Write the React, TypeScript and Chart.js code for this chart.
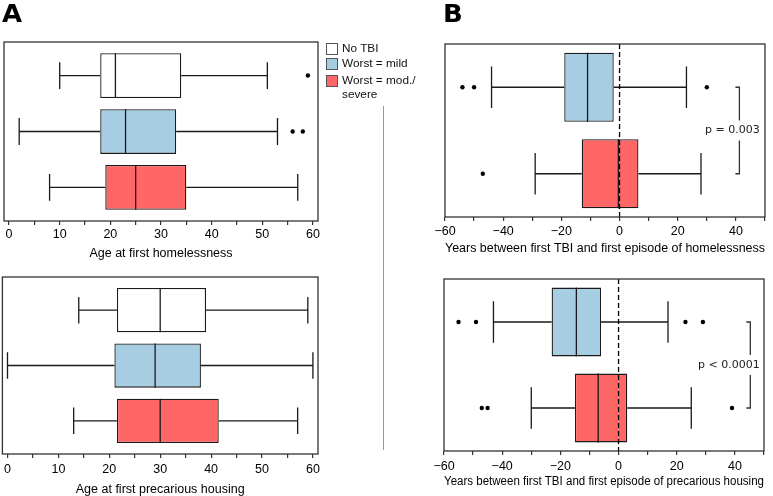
import React, { useEffect, useRef } from "react";
import { Chart, registerables } from "chart.js";

Chart.register(...registerables);

// ---------- data ----------
const groupNames = ["No TBI", "Worst = mild", "Worst = mod./severe"];
const groupColors = ["#ffffff", "#a6cde2", "#ff6666"];

// A (top): age at first homelessness — No TBI, mild, mod./severe
const homeAgeMin = [10, 2, 8];
const homeAgeQ1 = [18, 18, 19];
const homeAgeMed = [21, 23, 25];
const homeAgeQ3 = [34, 33, 35];
const homeAgeMax = [51, 53, 57];
const homeAgeOut = [[59], [56, 58], []];

// A (bottom): age at first precarious housing
const precAgeMin = [14, 0, 13];
const precAgeQ1 = [21.5, 21, 21.5];
const precAgeMed = [30, 29, 30];
const precAgeQ3 = [39, 38, 41.5];
const precAgeMax = [59, 60, 57];
const precAgeOut = [[], [], []];

// B (top): years between first TBI and first homelessness — mild, mod./severe
const homeGapMin = [-44, -29];
const homeGapQ1 = [-19, -13];
const homeGapMed = [-11, -0.4];
const homeGapQ3 = [-2, 6.5];
const homeGapMax = [23, 28];
const homeGapOut = [[-54, -50, 30], [-47]];

// B (bottom): years between first TBI and first precarious housing
const precGapMin = [-43, -30];
const precGapQ1 = [-23, -15];
const precGapMed = [-14.5, -7];
const precGapQ3 = [-6, 3];
const precGapMax = [17, 25];
const precGapOut = [[-55, -49, 23, 29], [-47, -45, 39]];

const ageTicks = [0, 5, 10, 15, 20, 25, 30, 35, 40, 45, 50, 55, 60];
const gapTicks = [-60, -50, -40, -30, -20, -10, 0, 10, 20, 30, 40, 50];

const pHome = "p = 0.003";
const pPrec = "p < 0.0001";

// ---------- rendering ----------
const W = 773;
const H = 496;
const SANS = "'Liberation Sans', Arial, Helvetica, sans-serif";

type PanelProps = {
  frame: [number, number, number, number];
  xMin: number;
  xMax: number;
  rowPad: number;
  tickValues: number[];
  labelStep: number;
  title: string;
  labelGap: number;
  titleGap: number;
  colors: string[];
  mins: number[];
  q1s: number[];
  meds: number[];
  q3s: number[];
  maxs: number[];
  outs: number[][];
  zeroLine?: boolean;
  pText?: string;
  pX?: number;
  bracketX?: number;
};

const fmt = (v: number) => (v < 0 ? "\u2212" + Math.abs(v) : String(v));

function BoxPanel(p: PanelProps) {
  const ref = useRef<HTMLCanvasElement | null>(null);
  useEffect(() => {
    if (!ref.current) return;
    const [L, T, R, B] = p.frame;
    const n = p.mins.length;
    const rows = p.mins.map((_, i) => i + 1);
    const fs = 12.5;
    const lineH = fs * 1.2;
    const tickLen = 4;
    const axisH = p.titleGap + lineH / 2;
    const tickPad = p.labelGap - tickLen - lineH / 2;

    const extras = {
      id: "boxExtras",
      beforeDatasetsDraw(chart: any) {
        const ctx = chart.ctx;
        const xs = chart.scales.x;
        const meta = chart.getDatasetMeta(0);
        ctx.save();
        ctx.strokeStyle = "#1a1a1a";
        ctx.lineWidth = 1.3;
        rows.forEach((_, i) => {
          const el = meta.data[i];
          const y = el.y;
          const cap = el.height * 0.3;
          const xMin = xs.getPixelForValue(p.mins[i]);
          const xQ1 = xs.getPixelForValue(p.q1s[i]);
          const xQ3 = xs.getPixelForValue(p.q3s[i]);
          const xMax = xs.getPixelForValue(p.maxs[i]);
          ctx.beginPath();
          ctx.moveTo(xMin, y);
          ctx.lineTo(xQ1, y);
          ctx.moveTo(xQ3, y);
          ctx.lineTo(xMax, y);
          ctx.moveTo(xMin, y - cap);
          ctx.lineTo(xMin, y + cap);
          ctx.moveTo(xMax, y - cap);
          ctx.lineTo(xMax, y + cap);
          ctx.stroke();
        });
        ctx.restore();
      },
      afterDatasetsDraw(chart: any) {
        const ctx = chart.ctx;
        const xs = chart.scales.x;
        const ys = chart.scales.y;
        const area = chart.chartArea;
        const meta = chart.getDatasetMeta(0);
        ctx.save();
        ctx.strokeStyle = "#1a1a1a";
        ctx.lineWidth = 1.3;
        rows.forEach((_, i) => {
          const el = meta.data[i];
          const xm = xs.getPixelForValue(p.meds[i]);
          ctx.beginPath();
          ctx.moveTo(xm, el.y - el.height / 2);
          ctx.lineTo(xm, el.y + el.height / 2);
          ctx.stroke();
        });
        if (p.zeroLine) {
          const x0 = xs.getPixelForValue(0);
          ctx.save();
          ctx.setLineDash([5, 3]);
          ctx.strokeStyle = "#000";
          ctx.lineWidth = 1.3;
          ctx.beginPath();
          ctx.moveTo(x0, area.top);
          ctx.lineTo(x0, area.bottom);
          ctx.stroke();
          ctx.restore();
        }
        // frame
        ctx.strokeStyle = "#333";
        ctx.lineWidth = 1.3;
        ctx.strokeRect(area.left, area.top, area.right - area.left, area.bottom - area.top);
        // bracket
        if (p.pText && p.bracketX !== undefined && p.pX !== undefined) {
          const bx = xs.getPixelForValue(p.bracketX);
          const y1 = ys.getPixelForValue(1);
          const y2 = ys.getPixelForValue(2);
          const mid = (y1 + y2) / 2;
          ctx.strokeStyle = "#333";
          ctx.lineWidth = 1.3;
          ctx.beginPath();
          ctx.moveTo(bx - 4, y1);
          ctx.lineTo(bx, y1);
          ctx.lineTo(bx, mid - 10);
          ctx.moveTo(bx, mid + 10);
          ctx.lineTo(bx, y2);
          ctx.lineTo(bx - 4, y2);
          ctx.stroke();
          ctx.fillStyle = "#222";
          ctx.font = "11px 'DejaVu Sans', sans-serif";
          ctx.textAlign = "center";
          ctx.textBaseline = "middle";
          ctx.fillText(p.pText, xs.getPixelForValue(p.pX), mid);
        }
        ctx.restore();
      },
    };

    const chart = new Chart(ref.current, {
      type: "bar",
      data: {
        datasets: [
          {
            type: "bar",
            data: rows.map((r, i) => ({ x: [p.q1s[i], p.q3s[i]], y: r })) as any,
            backgroundColor: p.colors,
            borderColor: "#1a1a1a",
            borderWidth: 1.3,
            borderSkipped: false,
            categoryPercentage: 1,
            barPercentage: 0.8,
            order: 2,
          } as any,
          {
            type: "scatter",
            data: p.outs.flatMap((o, i) => o.map((v) => ({ x: v, y: rows[i] }))),
            pointRadius: 2.2,
            pointBackgroundColor: "#000",
            pointBorderWidth: 0,
            order: 1,
          } as any,
        ],
      },
      options: {
        indexAxis: "y",
        responsive: false,
        maintainAspectRatio: false,
        animation: false,
        events: [],
        layout: { padding: { left: L, top: T, right: W - R, bottom: H - B - axisH } },
        plugins: { legend: { display: false }, tooltip: { enabled: false } },
        scales: {
          x: {
            type: "linear",
            position: "bottom",
            offset: false,
            min: p.xMin,
            max: p.xMax,
            afterBuildTicks: (s: any) => {
              s.ticks = p.tickValues.map((v) => ({ value: v }));
            },
            afterFit: (s: any) => {
              s.height = axisH;
            },
            ticks: {
              autoSkip: false,
              maxRotation: 0,
              minRotation: 0,
              padding: tickPad,
              color: "#000",
              font: { family: SANS, size: fs },
              callback: (v: any) => (Number(v) % p.labelStep === 0 ? fmt(Number(v)) : ""),
            },
            grid: { offset: false, drawOnChartArea: false, drawTicks: true, tickLength: tickLen, color: "#333", lineWidth: 1.2 },
            border: { display: false },
            title: { display: true, text: p.title, color: "#000", font: { family: SANS, size: fs }, padding: 0 },
          },
          y: {
            type: "linear",
            display: false,
            reverse: true,
            offset: false,
            grid: { offset: false },
            min: 1 - p.rowPad,
            max: n + p.rowPad,
            afterBuildTicks: (s: any) => {
              s.ticks = rows.map((v) => ({ value: v }));
            },
          },
        },
      } as any,
      plugins: [extras],
    });
    return () => chart.destroy();
  }, []);
  return (
    <canvas
      ref={ref}
      width={W}
      height={H}
      style={{ position: "absolute", left: 0, top: 0, width: W, height: H }}
    />
  );
}

function Legend() {
  const tops = [43, 58, 75];
  const lines = [["No TBI"], ["Worst = mild"], ["Worst = mod./", "severe"]];
  return (
    <div style={{ position: "absolute", left: 0, top: 0 }}>
      {groupNames.map((g, i) => (
        <React.Fragment key={g}>
          <div
            style={{
              position: "absolute",
              left: 326,
              top: tops[i],
              width: 10,
              height: 10,
              background: groupColors[i],
              border: "1px solid #555",
            }}
          />
          {lines[i].map((t, j) => (
            <div
              key={t}
              style={{
                position: "absolute",
                left: 342,
                top: tops[i] - 2 + j * 14,
                fontFamily: SANS,
                fontSize: 11.8,
                lineHeight: "14px",
                color: "#111",
                whiteSpace: "nowrap",
              }}
            >
              {t}
            </div>
          ))}
        </React.Fragment>
      ))}
    </div>
  );
}

export default function App() {
  const label = (text: string, left: number) => (
    <div
      style={{
        position: "absolute",
        left,
        top: 2,
        fontFamily: "'DejaVu Sans', sans-serif",
        fontWeight: 700,
        fontSize: 24,
        lineHeight: "24px",
        color: "#000",
        transform: "scaleX(1.08)",
        transformOrigin: "left top",
      }}
    >
      {text}
    </div>
  );
  return (
    <div style={{ position: "absolute", left: 0, top: 0, width: W, height: H, background: "#fff", overflow: "hidden" }}>
      <BoxPanel
        frame={[1, 42, 318, 221]}
        xMin={-1}
        xMax={61}
        rowPad={0.6}
        tickValues={ageTicks}
        labelStep={10}
        title="Age at first homelessness"
        labelGap={13.8}
        titleGap={32.3}
        colors={groupColors}
        mins={homeAgeMin}
        q1s={homeAgeQ1}
        meds={homeAgeMed}
        q3s={homeAgeQ3}
        maxs={homeAgeMax}
        outs={homeAgeOut}
      />
      <BoxPanel
        frame={[1, 277, 318, 454]}
        xMin={-1}
        xMax={61}
        rowPad={0.6}
        tickValues={ageTicks}
        labelStep={10}
        title="Age at first precarious housing"
        labelGap={15.5}
        titleGap={35.5}
        colors={groupColors}
        mins={precAgeMin}
        q1s={precAgeQ1}
        meds={precAgeMed}
        q3s={precAgeQ3}
        maxs={precAgeMax}
        outs={precAgeOut}
      />
      <BoxPanel
        frame={[445, 44, 765, 217]}
        xMin={-60}
        xMax={50}
        rowPad={0.5}
        tickValues={gapTicks}
        labelStep={20}
        title="Years between first TBI and first episode of homelessness"
        labelGap={14.8}
        titleGap={31.3}
        colors={groupColors.slice(1)}
        mins={homeGapMin}
        q1s={homeGapQ1}
        meds={homeGapMed}
        q3s={homeGapQ3}
        maxs={homeGapMax}
        outs={homeGapOut}
        zeroLine
        pText={pHome}
        pX={38.8}
        bracketX={41.2}
      />
      <BoxPanel
        frame={[444, 279, 764, 451]}
        xMin={-60}
        xMax={50}
        rowPad={0.5}
        tickValues={gapTicks}
        labelStep={20}
        title="Years between first TBI and first episode of precarious housing"
        labelGap={15.5}
        titleGap={31}
        colors={groupColors.slice(1)}
        mins={precGapMin}
        q1s={precGapQ1}
        meds={precGapMed}
        q3s={precGapQ3}
        maxs={precGapMax}
        outs={precGapOut}
        zeroLine
        pText={pPrec}
        pX={37.9}
        bracketX={45.3}
      />
      <Legend />
      <div style={{ position: "absolute", left: 383, top: 106, width: 1, height: 344, background: "#999" }} />
      {label("A", 2)}
      {label("B", 443)}
    </div>
  );
}
